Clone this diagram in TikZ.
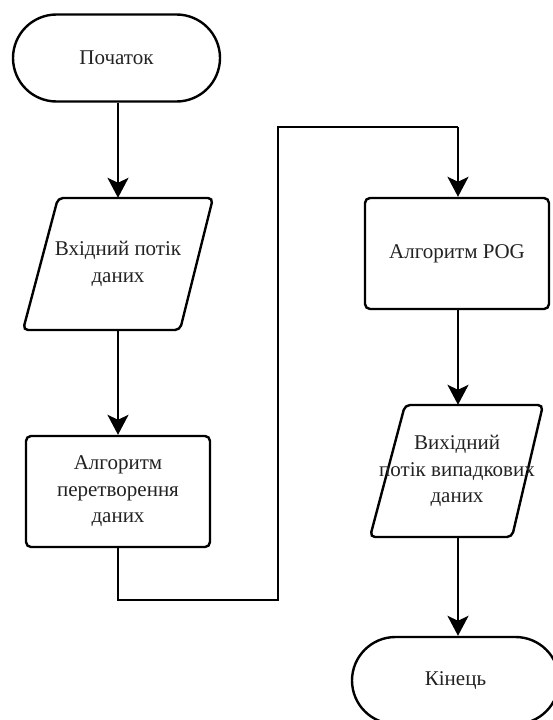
\documentclass[tikz,border=0pt]{standalone}
\usepackage{fontspec}
\setmainfont{Liberation Serif}
\usetikzlibrary{arrows.meta,shapes.misc}
\definecolor{ink}{HTML}{222222}
\tikzset{
  line/.style={line width=2.4pt, draw=black},
  flow/.style={line, -{Stealth[length=20pt,width=21pt,inset=5pt]}},
  terminal/.style={line, rounded rectangle, minimum width=207pt, minimum height=87pt,
    inner sep=0pt, text=ink, font=\fontsize{21}{26.5}\selectfont},
  process/.style={line, rectangle, rounded corners=5pt, minimum width=184pt, minimum height=111pt,
    inner sep=0pt, text=ink, align=center, font=\fontsize{21}{26.5}\selectfont},
  iobox/.style={rectangle, minimum width=150pt, minimum height=132pt, inner sep=0pt,
    text=ink, align=center, font=\fontsize{21}{26.5}\selectfont},
  slanted/.style={line, rounded corners=5pt}
}
\begin{document}
\begin{tikzpicture}[x=1pt,y=-1pt]
  \useasboundingbox (0,0) rectangle (553,720);
  \clip (0,0) rectangle (553,720);

  % left column
  \node[terminal] (start) at (116.5,58) {Початок};
  \draw[slanted] (58,198) -- (213,198) -- (180,330) -- (23,330) -- cycle;
  \node[iobox] (input) at (118,264) {Вхідний потік\\даних};
  \node[process] (convert) at (118,491.5) {Алгоритм\\перетворення\\даних};

  % right column
  \node[process] (prng) at (457,253.5) {Алгоритм POG};
  \draw[slanted] (405,405) -- (543,405) -- (512,537) -- (370,537) -- cycle;
  \node[iobox] (output) at (457,471) {Вихідний\\потік випадкових\\даних};
  \node[terminal] (finish) at (455.5,680.5) {Кінець};

  % routing points
  \coordinate (b1) at (118,600);
  \coordinate (b2) at (278,600);
  \coordinate (t1) at (278,127);
  \coordinate (t2) at (458,127);

  % connectors
  \draw[flow] (start.south -| input.north) -- (input.north);
  \draw[flow] (input.south) -- (convert.north);
  \draw[line] (convert.south) -- (b1) -- (b2) -- (t1) -- (t2);
  \draw[flow] (t2) -- (t2 |- prng.north);
  \draw[flow] (prng.south -| t2) -- (t2 |- output.north);
  \draw[flow] (t2 |- output.south) -- (t2 |- finish.north);
\end{tikzpicture}
\end{document}
